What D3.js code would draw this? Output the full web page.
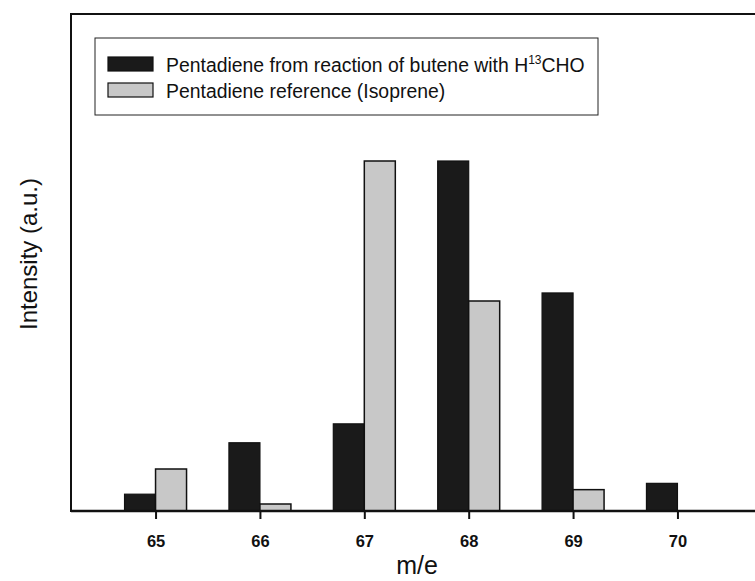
<!DOCTYPE html>
<html>
<head>
<meta charset="utf-8">
<script src="https://cdn.jsdelivr.net/npm/d3@7"></script>
<style>
  body { margin: 0; background: #fff; }
  svg { display: block; font-family: "Liberation Sans", Arial, sans-serif; }
</style>
</head>
<body>
<div id="chart"></div>
<script>
const masses = [65, 66, 67, 68, 69, 70];
const reactionValues = [4.8, 19.5, 24.9, 100, 62.3, 7.9];
const referenceValues = [12, 2, 100, 60, 6.1, 0];
const seriesNames = ["Pentadiene from reaction of butene with H", "Pentadiene reference (Isoprene)"];

const width = 755;
const height = 581;
const margin = { left: 71, top: 14, bottom: 70 };
const plotRight = 762;

const svg = d3
  .select("#chart")
  .append("svg")
  .attr("width", width)
  .attr("height", height);

const x = d3.scaleLinear().domain([64.19, 70.81]).range([margin.left, plotRight]);
const y = d3.scaleLinear().domain([0, 142]).range([height - margin.bottom, margin.top]);
const barW = 31;

// frame
svg.append("rect")
  .attr("x", margin.left)
  .attr("y", margin.top)
  .attr("width", plotRight - margin.left)
  .attr("height", y(0) - margin.top)
  .attr("fill", "none")
  .attr("stroke", "#111")
  .attr("stroke-width", 2);

// bars
const bars = svg.append("g");
bars.selectAll(".black")
  .data(masses)
  .enter()
  .append("rect")
  .attr("x", (d) => x(d) - barW)
  .attr("y", (d, i) => y(reactionValues[i]))
  .attr("width", barW)
  .attr("height", (d, i) => y(0) - y(reactionValues[i]))
  .attr("fill", "#1a1a1a")
  .attr("stroke", "#111")
  .attr("stroke-width", 1.2);

bars.selectAll(".gray")
  .data(masses.filter((d, i) => referenceValues[i] > 0))
  .enter()
  .append("rect")
  .attr("x", (d) => x(d))
  .attr("y", (d) => y(referenceValues[masses.indexOf(d)]))
  .attr("width", barW)
  .attr("height", (d) => y(0) - y(referenceValues[masses.indexOf(d)]))
  .attr("fill", "#c8c8c8")
  .attr("stroke", "#111")
  .attr("stroke-width", 1.5);

// x axis
const xAxis = d3.axisBottom(x).tickValues(masses).tickSize(8).tickPadding(16).tickFormat(d3.format("d"));
const gx = svg.append("g")
  .attr("transform", `translate(0, ${y(0)})`)
  .call(xAxis);
gx.select(".domain").remove();
gx.append("line")
  .attr("x1", margin.left).attr("x2", plotRight)
  .attr("stroke", "#111").attr("stroke-width", 2.5);
gx.selectAll(".tick line").attr("stroke", "#111").attr("stroke-width", 2);
gx.selectAll(".tick text")
  .attr("fill", "#111")
  .attr("font-size", 16.5)
  .attr("font-weight", "bold")
  .attr("font-family", "'Liberation Sans', Arial, sans-serif");

// axis titles
svg.append("text")
  .attr("x", 417)
  .attr("y", 574)
  .attr("text-anchor", "middle")
  .style("font-size", "25px")
  .attr("fill", "#111")
  .text("m/e");

svg.append("text")
  .attr("transform", "translate(37, 254) rotate(-90)")
  .attr("text-anchor", "middle")
  .style("font-size", "24px")
  .attr("fill", "#111")
  .text("Intensity (a.u.)");

// legend
const legend = svg.append("g");
legend.append("rect")
  .attr("x", 95).attr("y", 38)
  .attr("width", 503).attr("height", 77)
  .attr("fill", "#fff").attr("stroke", "#222").attr("stroke-width", 1);

const swatchFill = ["#1a1a1a", "#c8c8c8"];
seriesNames.forEach((name, i) => {
  const row = legend.append("g").attr("transform", `translate(108, ${57 + i * 26})`);
  row.append("rect")
    .attr("width", 45).attr("height", 14)
    .attr("fill", swatchFill[i]).attr("stroke", "#111").attr("stroke-width", 1.2);
  const t = row.append("text")
    .attr("x", 58).attr("y", 15)
    .style("font-size", "19.4px")
    .attr("fill", "#111")
    .text(name);
  if (i === 0) {
    t.append("tspan").attr("dy", -8).style("font-size", "12px").text("13");
    t.append("tspan").attr("dy", 8).text("CHO");
  }
});
</script>
</body>
</html>
